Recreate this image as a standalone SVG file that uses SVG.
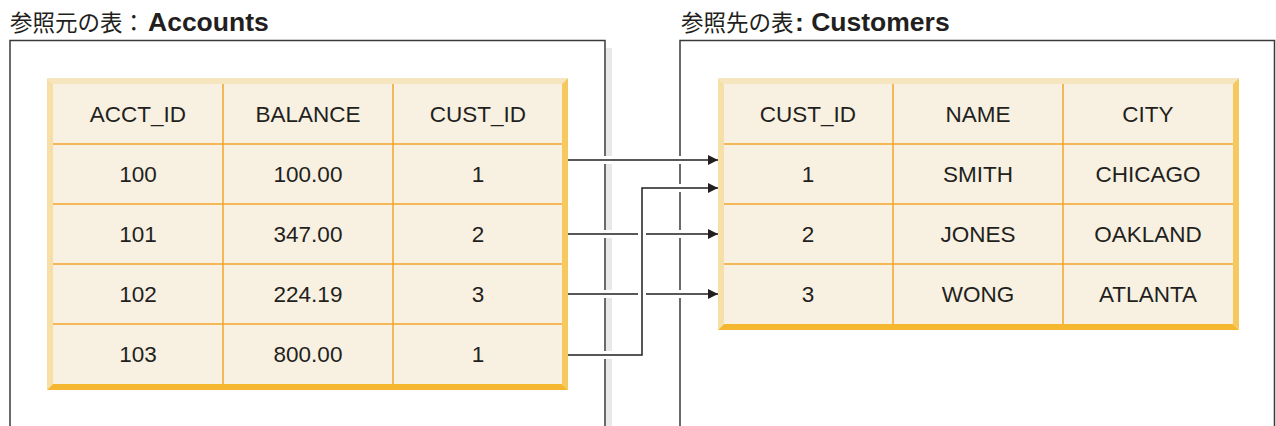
<svg xmlns="http://www.w3.org/2000/svg" width="1276" height="426" viewBox="0 0 1276 426">
<style>
.frame{fill:none;stroke:#3a3a3a;stroke-width:1.5}
.cell{fill:#f8f1e1}
.grid{stroke:#f4a52c;stroke-width:1.5;fill:none}
.bt{fill:#f6e6c0}
.bl{fill:#f7e0a8}
.br{fill:#f6c95e}
.bb{fill:#f5b630}
.t{font-family:"Liberation Sans",Arial,sans-serif;font-size:22.5px;fill:#231f20;text-anchor:middle}
.cjk{font-family:"Noto Sans CJK JP",sans-serif;font-size:22.5px;fill:#231f20}
.bold{font-family:"Liberation Sans",Arial,sans-serif;font-size:26.5px;font-weight:bold;fill:#231f20}
.halo{stroke:#fff;stroke-width:8;fill:none}
.ln{stroke:#231f20;stroke-width:1.5;fill:none}
</style>
<defs>
<marker id="ah" markerUnits="userSpaceOnUse" markerWidth="11" markerHeight="11" refX="10" refY="5" orient="auto">
<path d="M0,0 L10,5 L0,10 z" fill="#231f20"/>
</marker>
</defs>

<g id="title-left">
<text x="10" y="31" class="cjk">参照元の表：</text>
<text x="148" y="31" class="bold">Accounts</text>
</g>
<g id="title-right">
<text x="681" y="31" class="cjk">参照先の表</text>
<text x="795" y="31" class="bold">: Customers</text>
</g>

<g id="frame-left">
<rect x="606" y="48" width="6" height="378" fill="#e8e8e8"/>
<path class="frame" d="M10,426 V40.5 H605 V426"/>
</g>
<g id="frame-right">
<path class="frame" d="M680,426 V40.5 H1274.5 V426"/>
</g>

<g id="table-accounts">
<polygon class="bt" points="47,78 568,78 562,84 53,84"/>
<polygon class="bl" points="47,78 53,84 53,384 47,390"/>
<polygon class="br" points="568,78 568,390 562,384 562,84"/>
<polygon class="bb" points="47,390 53,384 562,384 568,390"/>
<rect class="cell" x="53" y="84" width="509" height="300"/>
<path class="grid" d="M53,144 H562 M53,204 H562 M53,264 H562 M53,324 H562 M223,84 V384 M393,84 V384"/>
<text class="t" x="138" y="122">ACCT_ID</text>
<text class="t" x="308" y="122">BALANCE</text>
<text class="t" x="478" y="122">CUST_ID</text>
<text class="t" x="138" y="182">100</text>
<text class="t" x="308" y="182">100.00</text>
<text class="t" x="478" y="182">1</text>
<text class="t" x="138" y="242">101</text>
<text class="t" x="308" y="242">347.00</text>
<text class="t" x="478" y="242">2</text>
<text class="t" x="138" y="302">102</text>
<text class="t" x="308" y="302">224.19</text>
<text class="t" x="478" y="302">3</text>
<text class="t" x="138" y="362">103</text>
<text class="t" x="308" y="362">800.00</text>
<text class="t" x="478" y="362">1</text>
</g>

<g id="table-customers">
<polygon class="bt" points="718,78 1239,78 1233,84 724,84"/>
<polygon class="bl" points="718,78 724,84 724,324 718,330"/>
<polygon class="br" points="1239,78 1239,330 1233,324 1233,84"/>
<polygon class="bb" points="718,330 724,324 1233,324 1239,330"/>
<rect class="cell" x="724" y="84" width="509" height="240"/>
<path class="grid" d="M724,144 H1233 M724,204 H1233 M724,264 H1233 M893,84 V324 M1063,84 V324"/>
<text class="t" x="808" y="122">CUST_ID</text>
<text class="t" x="978" y="122">NAME</text>
<text class="t" x="1148" y="122">CITY</text>
<text class="t" x="808" y="182">1</text>
<text class="t" x="978" y="182">SMITH</text>
<text class="t" x="1148" y="182">CHICAGO</text>
<text class="t" x="808" y="242">2</text>
<text class="t" x="978" y="242">JONES</text>
<text class="t" x="1148" y="242">OAKLAND</text>
<text class="t" x="808" y="302">3</text>
<text class="t" x="978" y="302">WONG</text>
<text class="t" x="1148" y="302">ATLANTA</text>
</g>

<g id="connectors">
<path class="halo" d="M569,160 H710"/>
<path class="ln" d="M568,160 H718" marker-end="url(#ah)"/>
<path class="halo" d="M569,234 H710"/>
<path class="ln" d="M568,234 H718" marker-end="url(#ah)"/>
<path class="halo" d="M569,294 H710"/>
<path class="ln" d="M568,294 H718" marker-end="url(#ah)"/>
<path class="halo" d="M569,355 H642 V188 H710"/>
<path class="ln" d="M568,355 H642 V188 H718" marker-end="url(#ah)"/>
</g>
</svg>
